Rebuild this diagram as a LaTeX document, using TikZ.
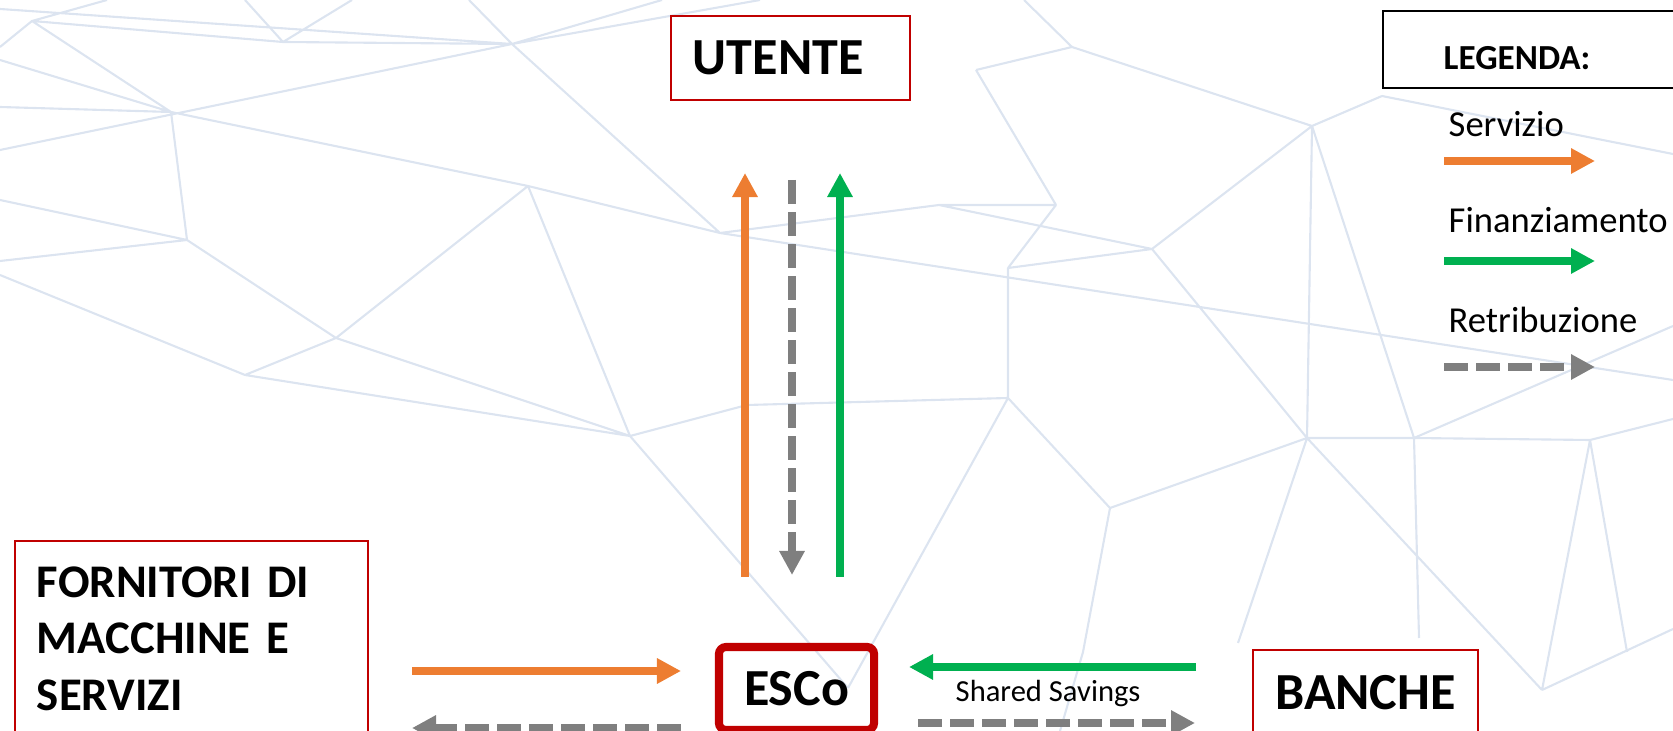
\documentclass[tikz,border=0pt]{standalone}
\usepackage{fontspec}
\setmainfont{Carlito}
\usetikzlibrary{arrows.meta}

\definecolor{boxred}{HTML}{C00000}
\definecolor{servorange}{HTML}{ED7D31}
\definecolor{fingreen}{HTML}{00B050}
\definecolor{retgray}{HTML}{7F7F7F}
\definecolor{meshblue}{RGB}{220,228,240}

\begin{document}
\begin{tikzpicture}[x=0.01cm, y=-0.01cm,
  % Actors: thin red frame, bold text
  actorbox/.style={draw=boxred, line width=0.7pt, inner sep=0pt,
                   font=\fontsize{14.8}{17}\selectfont\bfseries},
  escobox/.style={draw=boxred, line width=2.3pt, rounded corners=2pt, inner sep=0pt,
                  minimum width=1.55cm, minimum height=0.83cm,
                  font=\fontsize{14.8}{17}\selectfont\bfseries},
  % Legend
  legbox/.style={draw=black, line width=0.7pt, minimum width=3.17cm, minimum height=0.77cm},
  legtitle/.style={font=\fontsize{10}{12}\selectfont\bfseries, inner sep=0pt},
  legitem/.style={font=\fontsize{10.4}{12}\selectfont, inner sep=0pt},
  savetext/.style={font=\fontsize{8.7}{10}\selectfont, inner sep=0pt},
  % Flows
  servarrow/.style={draw=servorange, line width=2.2pt,
                    -{Triangle[length=0.24cm, width=0.24cm]}},
  finarrow/.style={draw=fingreen, line width=2.2pt,
                   -{Triangle[length=0.24cm, width=0.24cm]}},
  retarrow/.style={draw=retgray, line width=2.2pt, dash pattern=on 0.24cm off 0.08cm,
                   -{Triangle[length=0.24cm, width=0.24cm]}},
  meshline/.style={draw=meshblue, line width=0.6pt}
]
  \clip (0,0) rectangle (1673,731);

  % Background mesh
  \draw[meshline]
    (32,21) -- (0,47)   (32,21) -- (107,0)   (32,21) -- (283,42)   (32,21) -- (171,112)
    (0,9) -- (512,44)   (283,42) -- (245,0)  (283,42) -- (352,0)   (283,42) -- (512,44)
    (512,44) -- (469,0) (512,44) -- (662,0)  (0,107) -- (171,112)  (171,112) -- (187,240)
    (171,112) -- (528,186) (187,240) -- (0,200) (187,240) -- (336,338) (187,240) -- (0,261)
    (336,338) -- (245,375) (336,338) -- (528,186) (336,338) -- (630,436)
    (245,375) -- (0,275) (245,375) -- (630,436) (528,186) -- (720,233) (528,186) -- (630,436)
    (512,44) -- (720,233) (720,233) -- (939,205) (939,205) -- (1152,249) (939,205) -- (1056,205)
    (1056,205) -- (1008,268) (1008,268) -- (1008,398) (1008,268) -- (1152,249)
    (1152,249) -- (1312,126) (1072,47) -- (1312,126) (1072,47) -- (976,70) (1072,47) -- (1024,0)
    (976,70) -- (1056,205) (1312,126) -- (1382,96) (1312,126) -- (1307,438) (1312,126) -- (1414,438)
    (1307,438) -- (1414,438) (1414,438) -- (1590,440) (1590,440) -- (1673,419)
    (1307,438) -- (1110,508) (1110,508) -- (1008,398) (1110,508) -- (1083,652) (1083,652) -- (1060,731)
    (1307,438) -- (1238,643) (1590,440) -- (1627,652) (1542,690) -- (1673,629) (1414,438) -- (1419,638)
    (747,405) -- (1008,398) (630,436) -- (747,405) (630,436) -- (848,688) (1008,398) -- (848,688)
    (1152,249) -- (1307,438) (1382,96) -- (1673,154) (1414,438) -- (1673,326)
    (1307,438) -- (1542,690) (1590,440) -- (1542,690)
    (0,150) -- (512,44) (171,112) -- (0,60) (720,233) -- (1673,380) (512,44) -- (760,0);

  % Actors
  \node[actorbox, text width=1.95cm, inner xsep=0.22cm, minimum height=0.84cm, align=left]
    (utente) at (790.5,58) {UTENTE};
  \node[actorbox, text width=3.09cm, inner xsep=0.22cm, minimum height=1.95cm, align=left,
        font=\fontsize{13.3}{16.1}\selectfont\bfseries]
    (fornitori) at (191.5,638.5) {FORNITORI DI\\MACCHINE E\\SERVIZI};
  \node[escobox] (esco) at (796.5,688.5) {ESCo};
  \node[actorbox, minimum width=2.25cm, minimum height=0.86cm] (banche) at (1365.5,693) {BANCHE};

  % Legend
  \node[legbox] (legenda) at (1541.5,49.5) {};
  \node[legtitle, anchor=base west] (legtitle) at (1443,70) {LEGENDA:};
  \node[legitem, anchor=base west] (servizio) at (1448,137) {Servizio};
  \node[legitem, anchor=base west] (finanz) at (1448,233) {Finanziamento};
  \node[legitem, anchor=base west] (retrib) at (1448,333) {Retribuzione};
  \coordinate (leg_serv_s) at (1444,161);  \coordinate (leg_serv_e) at (1595,161);
  \coordinate (leg_fin_s) at (1444,261);   \coordinate (leg_fin_e) at (1595,261);
  \coordinate (leg_ret_s) at (1444,367);   \coordinate (leg_ret_e) at (1595,367);
  \draw[servarrow] (leg_serv_s) -- (leg_serv_e);
  \draw[finarrow] (leg_fin_s) -- (leg_fin_e);
  \draw[retarrow] (leg_ret_s) -- (leg_ret_e);

  % ESCo <-> UTENTE
  \coordinate (up_serv_s) at (745,577);  \coordinate (up_serv_e) at (745,173);
  \coordinate (dn_ret_s) at (792,180);   \coordinate (dn_ret_e) at (792,575);
  \coordinate (up_fin_s) at (840,577);   \coordinate (up_fin_e) at (840,173);
  \draw[servarrow] (up_serv_s) -- (up_serv_e);
  \draw[retarrow] (dn_ret_s) -- (dn_ret_e);
  \draw[finarrow] (up_fin_s) -- (up_fin_e);

  % FORNITORI <-> ESCo
  \coordinate (forn_serv_s) at (412,671); \coordinate (forn_serv_e) at (681,671);
  \coordinate (forn_ret_s) at (681,728);  \coordinate (forn_ret_e) at (412,728);
  \draw[servarrow] (forn_serv_s) -- (forn_serv_e);
  \draw[retarrow] (forn_ret_s) -- (forn_ret_e);

  % BANCHE <-> ESCo
  \coordinate (banc_fin_s) at (1196,667); \coordinate (banc_fin_e) at (909,667);
  \coordinate (banc_ret_s) at (918,723);  \coordinate (banc_ret_e) at (1195,723);
  \draw[finarrow] (banc_fin_s) -- (banc_fin_e);
  \draw[retarrow] (banc_ret_s) -- (banc_ret_e);
  \node[savetext, anchor=base west] (shared) at (955,701) {Shared Savings};

\end{tikzpicture}
\end{document}
